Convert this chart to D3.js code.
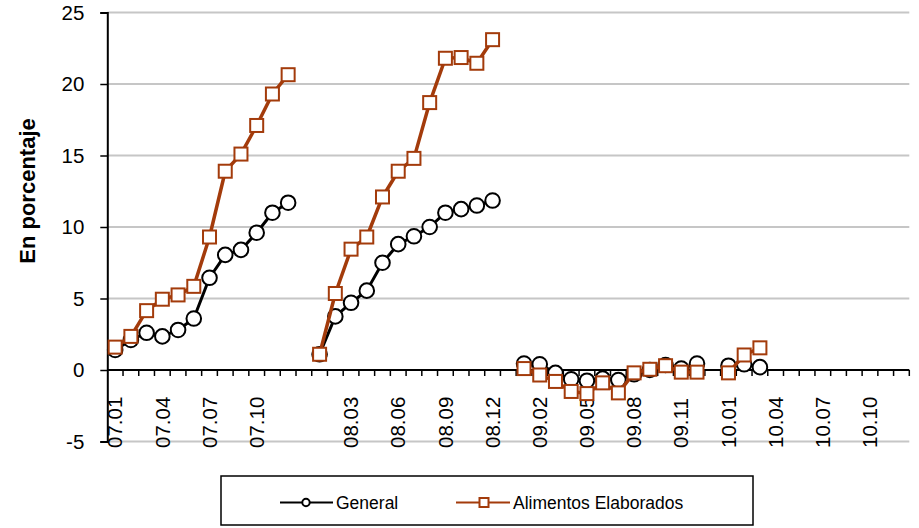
<!DOCTYPE html>
<html>
<head>
<meta charset="utf-8">
<script src="https://cdn.jsdelivr.net/npm/d3@7"></script>
<style>
  html, body { margin: 0; padding: 0; background: #fff; }
  svg { display: block; font-family: "Liberation Sans", Arial, sans-serif; }
</style>
</head>
<body>
<svg id="chart" width="919" height="528"></svg>
<script>
// ---------- DATA ----------
const categories = [
  "07.01","07.02","07.03","07.04","07.05","07.06","07.07","07.08","07.09","07.10","07.11","07.12",
  "gap1",
  "08.01","08.02","08.03","08.04","08.05","08.06","08.07","08.08","08.09","08.10","08.11","08.12",
  "gap2",
  "09.01","09.02","09.03","09.04","09.05","09.06","09.07","09.08","09.09","09.10","09.11","09.12",
  "gap3",
  "10.01","10.02","10.03","10.04","10.05","10.06","10.07","10.08","10.09","10.10","10.11","10.12"
];
const tickLabels = ["07.01","07.04","07.07","07.10","08.03","08.06","08.09","08.12",
                    "09.02","09.05","09.08","09.11","10.01","10.04","10.07","10.10"];
const yTicks = [-5, 0, 5, 10, 15, 20, 25];

const general2007 = [1.4, 2.1, 2.6, 2.35, 2.8, 3.6, 6.45, 8.05, 8.4, 9.6, 11.0, 11.7];
const general2008 = [1.1, 3.75, 4.7, 5.55, 7.5, 8.8, 9.35, 10.0, 11.0, 11.25, 11.5, 11.85];
const general2009 = [0.45, 0.4, -0.2, -0.65, -0.75, -0.6, -0.7, -0.3, 0.0, 0.35, 0.1, 0.45];
const general2010 = [0.3, 0.4, 0.2, null, null, null, null, null, null, null, null, null];

const alimentos2007 = [1.6, 2.35, 4.15, 4.95, 5.25, 5.85, 9.3, 13.9, 15.1, 17.1, 19.3, 20.65];
const alimentos2008 = [1.1, 5.35, 8.45, 9.3, 12.1, 13.9, 14.8, 18.7, 21.8, 21.85, 21.45, 23.1];
const alimentos2009 = [0.1, -0.35, -0.8, -1.5, -1.65, -0.9, -1.6, -0.2, 0.05, 0.3, -0.15, -0.15];
const alimentos2010 = [-0.2, 1.05, 1.55, null, null, null, null, null, null, null, null, null];

const seriesNames = ["General", "Alimentos Elaborados"];
const yTitle = "En porcentaje";

// build full series (gap categories are null)
const generalVals = [].concat(general2007, [null], general2008, [null], general2009, [null], general2010);
const alimentosVals = [].concat(alimentos2007, [null], alimentos2008, [null], alimentos2009, [null], alimentos2010);

// ---------- LAYOUT ----------
const svg = d3.select("#chart");
const x = d3.scaleBand().domain(categories).range([107.3, 909.3]).padding(0);
const y = d3.scaleLinear().domain([-5, 25]).range([441.5, 12.5]);
const bw = x.bandwidth();
const cx = c => x(c) + bw / 2;

const COL_GEN = "#000000";
const COL_ALI = "#a33b0b";
const TICK_FONT = 20.5;

// gridlines
svg.append("g").selectAll("line")
  .data(yTicks.filter(v => v !== 0))
  .join("line")
  .attr("x1", x.range()[0]).attr("x2", x.range()[1])
  .attr("y1", d => y(d)).attr("y2", d => y(d))
  .attr("stroke", "#c6c6c6").attr("stroke-width", 1.8);

// x tick labels (bottom, rotated)
svg.append("g").selectAll("text")
  .data(tickLabels)
  .join("text")
  .attr("transform", d => `translate(${cx(d)},448) rotate(-90)`)
  .attr("dy", "0.35em")
  .attr("text-anchor", "start")
  .attr("font-size", TICK_FONT)
  .attr("fill", "#000")
  .text(d => d);

// y axis
const yAxis = d3.axisLeft(y).tickValues(yTicks).tickSize(7).tickPadding(16)
  .tickFormat(d => String(d));
const gy = svg.append("g").attr("transform", `translate(${x.range()[0]},0)`).call(yAxis);
gy.select(".domain").attr("stroke", "#000").attr("stroke-width", 2);
gy.selectAll(".tick line").attr("stroke", "#000").attr("stroke-width", 1.5);
gy.selectAll(".tick text").attr("font-size", TICK_FONT).attr("fill", "#000")
  .attr("font-family", "Liberation Sans, Arial, sans-serif");

// x axis line at zero with boundary ticks
const gx = svg.append("g");
gx.append("line")
  .attr("x1", x.range()[0]).attr("x2", x.range()[1])
  .attr("y1", y(0)).attr("y2", y(0))
  .attr("stroke", "#000").attr("stroke-width", 2);
gx.selectAll("line.tk")
  .data(categories.slice(1).concat(["__end"]))
  .join("line")
  .attr("class", "tk")
  .attr("x1", d => d === "__end" ? x.range()[1] : x(d))
  .attr("x2", d => d === "__end" ? x.range()[1] : x(d))
  .attr("y1", y(0)).attr("y2", y(0) + 6)
  .attr("stroke", "#000").attr("stroke-width", 1.5);

// y title
svg.append("text")
  .attr("transform", "translate(27,191) rotate(-90)")
  .attr("dy", "0.35em")
  .attr("text-anchor", "middle")
  .attr("font-size", 22)
  .attr("font-weight", "bold")
  .text(yTitle);

// series
const line = d3.line()
  .defined(d => d.v !== null)
  .x(d => cx(d.c))
  .y(d => y(d.v));

function drawSeries(vals, color, width, marker) {
  const data = categories.map((c, i) => ({ c, v: vals[i] }));
  const g = svg.append("g");
  g.append("path").datum(data)
    .attr("d", line)
    .attr("fill", "none")
    .attr("stroke", color)
    .attr("stroke-width", width)
    .attr("stroke-linejoin", "round");
  const pts = data.filter(d => d.v !== null);
  if (marker === "circle") {
    g.selectAll("circle").data(pts).join("circle")
      .attr("cx", d => cx(d.c)).attr("cy", d => y(d.v)).attr("r", 7.3)
      .attr("fill", "#fff").attr("stroke", color).attr("stroke-width", 2);
  } else {
    const s = 13;
    g.selectAll("rect").data(pts).join("rect")
      .attr("x", d => cx(d.c) - s / 2).attr("y", d => y(d.v) - s / 2)
      .attr("width", s).attr("height", s)
      .attr("fill", "#fff").attr("stroke", color).attr("stroke-width", 2);
  }
}
drawSeries(generalVals, COL_GEN, 3, "circle");
drawSeries(alimentosVals, COL_ALI, 3.5, "square");

// legend
const lg = svg.append("g");
lg.append("rect").attr("x", 221).attr("y", 476).attr("width", 532).attr("height", 49)
  .attr("fill", "#fff").attr("stroke", "#000").attr("stroke-width", 1.5);
const ly = 502.5;
lg.append("line").attr("x1", 280).attr("x2", 333).attr("y1", ly).attr("y2", ly)
  .attr("stroke", COL_GEN).attr("stroke-width", 2);
lg.append("circle").attr("cx", 306).attr("cy", ly).attr("r", 3.7)
  .attr("fill", "#fff").attr("stroke", COL_GEN).attr("stroke-width", 2);
lg.append("text").attr("x", 336).attr("y", ly).attr("dy", "0.35em")
  .attr("font-size", 17.5).text(seriesNames[0]);
lg.append("line").attr("x1", 456).attr("x2", 510).attr("y1", ly).attr("y2", ly)
  .attr("stroke", COL_ALI).attr("stroke-width", 2);
lg.append("rect").attr("x", 484 - 4.5).attr("y", ly - 4.5).attr("width", 9).attr("height", 9)
  .attr("fill", "#fff").attr("stroke", COL_ALI).attr("stroke-width", 2);
lg.append("text").attr("x", 513).attr("y", ly).attr("dy", "0.35em")
  .attr("font-size", 17.5).text(seriesNames[1]);
</script>
</body>
</html>
